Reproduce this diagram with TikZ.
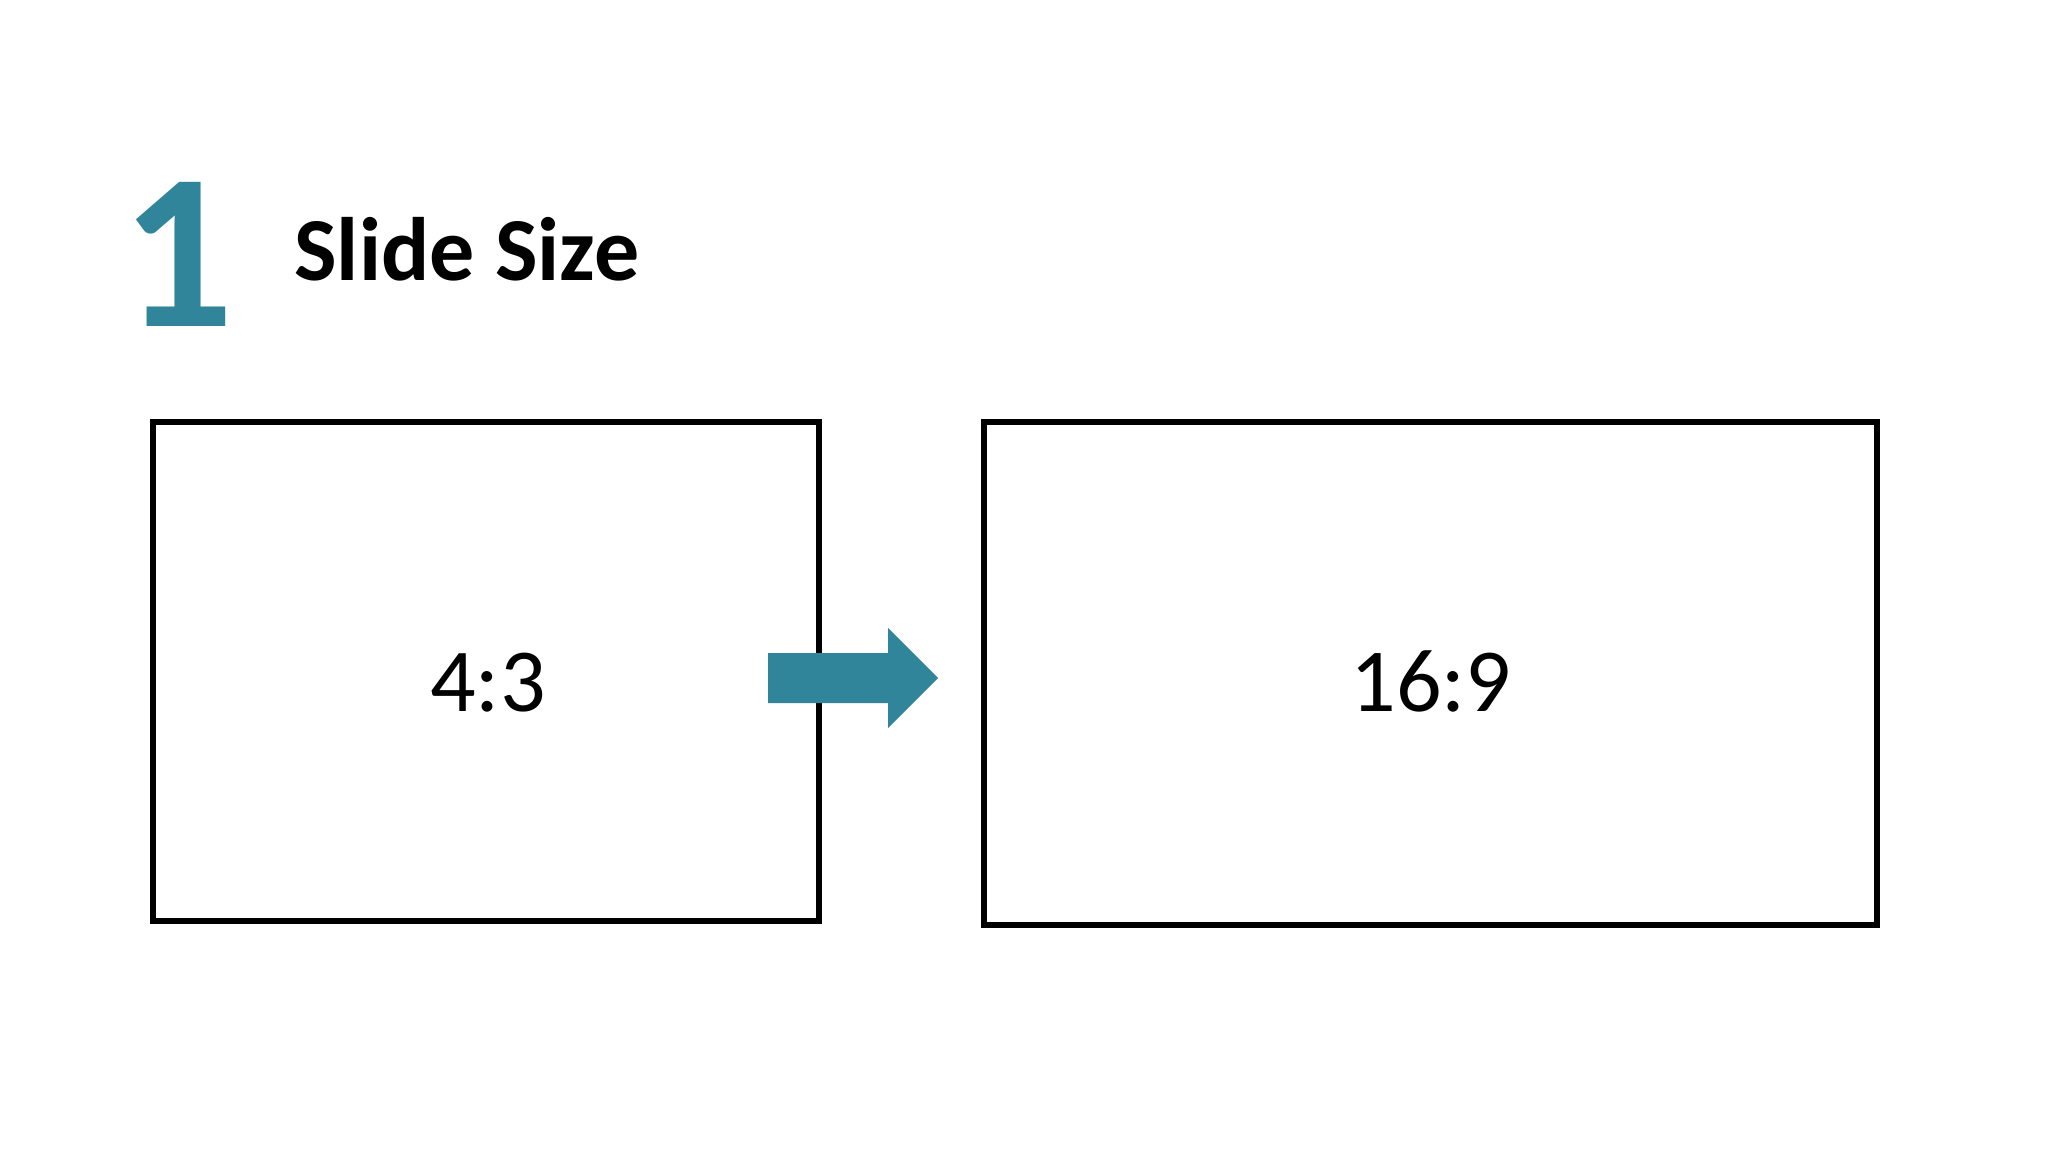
\documentclass[tikz,border=0pt]{standalone}
\usepackage{fontspec}
\setmainfont{Carlito}
\definecolor{teal1}{RGB}{49,133,155}
\begin{document}
\begin{tikzpicture}[x=0.5pt,y=-0.5pt,
  frame/.style={draw=black,line width=2.6pt,rectangle,inner sep=0pt,outer sep=0pt},
  ratio/.style={anchor=base,inner sep=0pt,font=\fontsize{45pt}{54pt}\selectfont},
  blockarrow/.style={fill=teal1,draw=none}]
\useasboundingbox[fill=white] (0,0) rectangle (2048,1152);
\node[anchor=base west,inner sep=0pt,text=teal1,font=\fontsize{111pt}{130pt}\selectfont\bfseries] (num) at (121,326) {1};
\node[anchor=base west,inner sep=0pt,font=\fontsize{45pt}{54pt}\selectfont\bfseries] (title) at (294,280) {Slide Size};
\node[frame,minimum width=333pt,minimum height=249.5pt] (box43) at (486,671.5) {};
\node[frame,minimum width=446.5pt,minimum height=251.5pt] (box169) at (1430.5,673.5) {};
\node[ratio] (t43) at (488,711) {4:3};
\node[ratio] (t169) at (1431,711) {16:9};
\fill[blockarrow] (768,653) -- (888,653) -- (888,628) -- (938,678) -- (888,728) -- (888,703) -- (768,703) -- cycle;
\end{tikzpicture}
\end{document}
